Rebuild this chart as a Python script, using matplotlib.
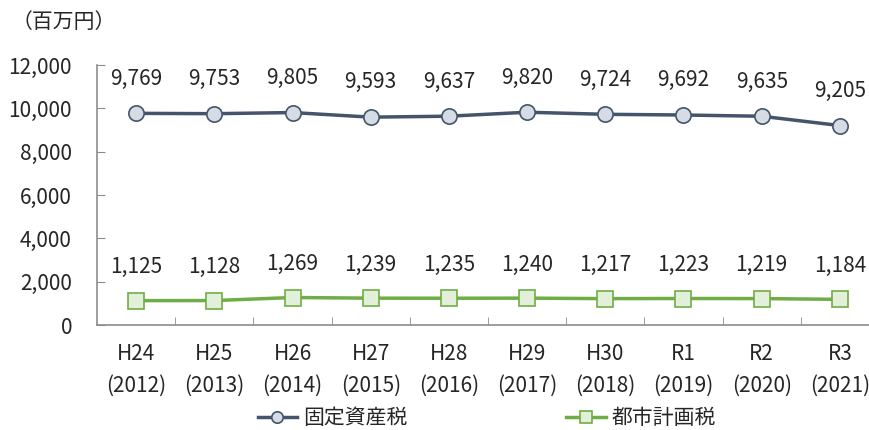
import numpy as np
import matplotlib.pyplot as plt

plt.rcParams['font.family'] = ['Noto Sans CJK JP', 'DejaVu Sans']

wareki = ["H24", "H25", "H26", "H27", "H28", "H29", "H30", "R1", "R2", "R3"]
seireki = ["2012", "2013", "2014", "2015", "2016", "2017", "2018", "2019", "2020", "2021"]
kotei = [9769, 9753, 9805, 9593, 9637, 9820, 9724, 9692, 9635, 9205]
toshi = [1125, 1128, 1269, 1239, 1235, 1240, 1217, 1223, 1219, 1184]

txt = "#262626"
gris = "#8c8c8c"
fs = 15

fig = plt.figure(figsize=(8.69, 4.30), dpi=100)
ax = fig.add_axes([97/869, 1-325/430, 782/869, 260/430])

x = np.arange(len(wareki))
ax.plot(x, kotei, color="#44546A", lw=2.5, marker="o", ms=11,
        mfc="#D6DCE5", mec="#44546A", mew=1.2, label="固定資産税")
ax.plot(x, toshi, color="#70AD47", lw=2.5, marker="s", ms=11,
        mfc="#E2F0D9", mec="#70AD47", mew=1.2, label="都市計画税")

for i in range(len(x)):
    ax.annotate(f"{kotei[i]:,}", (x[i], kotei[i]), xytext=(0, 25),
                textcoords="offset points", ha="center", va="center",
                fontsize=fs, color=txt)
    ax.annotate(f"{toshi[i]:,}", (x[i], toshi[i]), xytext=(0, 24),
                textcoords="offset points", ha="center", va="center",
                fontsize=fs, color=txt)

ax.set_xlim(-0.5, len(x) - 0.5)
ax.set_ylim(0, 12000)
ax.set_yticks(np.arange(0, 12001, 2000))
ax.set_yticklabels([f"{v:,}" for v in range(0, 12001, 2000)])
ax.set_xticks(x)
ax.set_xticklabels([f"{a}\n({b})" for a, b in zip(wareki, seireki)],
                   linespacing=1.6)
ax.set_xticks(np.arange(0.5, len(x) - 0.5, 1), minor=True)

ax.tick_params(axis="y", direction="in", length=6, color=gris, pad=18,
               labelsize=fs, labelcolor=txt)
ax.tick_params(axis="x", which="major", length=0, pad=13,
               labelsize=fs, labelcolor=txt)
ax.tick_params(axis="x", which="minor", direction="in", length=6, color=gris)

for s in ["top", "right"]:
    ax.spines[s].set_visible(False)
for s in ["left", "bottom"]:
    ax.spines[s].set_color(gris)
    ax.spines[s].set_linewidth(1.2)

fig.text(12/869, 1-22/430, "（百万円）", fontsize=fs, color=txt,
         ha="left", va="center")

fig.legend(loc="center", bbox_to_anchor=(487/869, 1-418/430), ncol=2,
           frameon=False, fontsize=fs, handlelength=1.9,
           handletextpad=0.3, columnspacing=7.6, markerscale=0.75,
           labelcolor=txt)

fig.savefig("out.png", dpi=100)
